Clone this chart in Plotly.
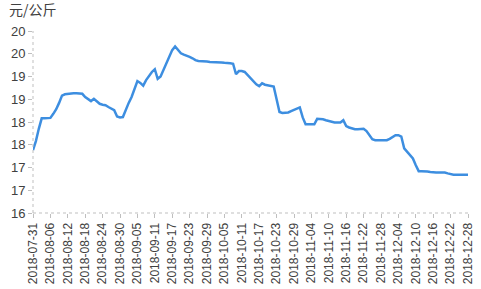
import datetime as dt
import plotly.graph_objects as go

start_date = "2018-07-31"
prices = [
    17.38, 17.58, 17.85, 18.08, 18.08, 18.08, 18.09, 18.18, 18.28, 18.42,
    18.58, 18.61, 18.62, 18.62, 18.63, 18.63, 18.63, 18.62, 18.55, 18.50,
    18.46, 18.51, 18.45, 18.40, 18.38, 18.37, 18.33, 18.30, 18.26, 18.12,
    18.10, 18.11, 18.28, 18.42, 18.55, 18.72, 18.90, 18.86, 18.80, 18.92,
    19.02, 19.10, 19.16, 18.95, 19.00, 19.15, 19.30, 19.45, 19.58, 19.66,
    19.58, 19.51, 19.48, 19.46, 19.43, 19.40, 19.36, 19.34, 19.34, 19.33,
    19.33, 19.32, 19.32, 19.31, 19.31, 19.31, 19.30, 19.30, 19.29, 19.28,
    19.05, 19.12, 19.12, 19.10, 19.03, 18.96, 18.90, 18.83, 18.79, 18.85,
    18.82, 18.81, 18.80, 18.78, 18.50, 18.22, 18.20, 18.20, 18.21, 18.24,
    18.27, 18.30, 18.32, 18.10, 17.95, 17.95, 17.95, 17.95, 18.07, 18.07,
    18.06, 18.04, 18.02, 18.00, 17.99, 17.99, 17.99, 18.04, 17.91, 17.88,
    17.86, 17.84, 17.84, 17.85, 17.85, 17.80, 17.72, 17.62, 17.60, 17.60,
    17.60, 17.60, 17.60, 17.63, 17.67, 17.71, 17.71, 17.68, 17.42, 17.35,
    17.28, 17.20, 17.05, 16.92, 16.92, 16.92, 16.91, 16.90, 16.89, 16.89,
    16.89, 16.89, 16.89, 16.87, 16.85, 16.84, 16.84, 16.84, 16.84, 16.84,
    16.84,
]
y_tickvals = [16, 16.5, 17, 17.5, 18, 18.5, 19, 19.5, 20]
y_ticktext = ["16", "17", "17", "18", "18", "19", "19", "20", "20"]
x_tick_step_days = 6
unit_label = "元/公斤"

d0 = dt.date.fromisoformat(start_date)
dates = [d0 + dt.timedelta(days=i) for i in range(len(prices))]
x_ticks = dates[::x_tick_step_days]

axis_col = "#bfbfbf"
text_col = "#404040"

fig = go.Figure()
fig.add_trace(go.Scatter(x=dates, y=prices, mode="lines",
                         line=dict(color="#3d8ee0", width=2.5),
                         hoverinfo="skip", showlegend=False))

fig.update_layout(
    width=481, height=289,
    margin=dict(l=33, r=13, t=31, b=76),
    paper_bgcolor="white", plot_bgcolor="white",
    font=dict(family="Liberation Sans, Arial, sans-serif", size=12, color=text_col),
    xaxis=dict(
        range=[dates[0], dates[-1]],
        tickvals=x_ticks, tickformat="%Y-%m-%d", tickangle=-90,
        ticks="outside", ticklen=4, tickcolor=axis_col,
        showgrid=False, zeroline=False, showline=False, automargin=False,
        tickfont=dict(size=12, color=text_col),
    ),
    yaxis=dict(
        range=[16, 20], tickvals=y_tickvals, ticktext=y_ticktext,
        ticks="outside", ticklen=4, tickcolor=axis_col,
        showgrid=False, zeroline=False, showline=False, automargin=False,
        tickfont=dict(size=13, color=text_col),
    ),
    shapes=[
        dict(type="line", xref="paper", yref="paper", x0=0, x1=1, y0=0, y1=0,
             line=dict(color=axis_col, width=1, dash="dot")),
        dict(type="line", xref="paper", yref="paper", x0=0, x1=0, y0=0, y1=1,
             line=dict(color=axis_col, width=1, dash="dot")),
    ],
    annotations=[
        dict(text=unit_label, xref="paper", yref="paper", x=-0.06, y=1.055,
             xanchor="left", yanchor="bottom", showarrow=False,
             font=dict(family="Noto Sans CJK SC", size=14, color=text_col)),
    ],
)

fig.write_html("out.html")
